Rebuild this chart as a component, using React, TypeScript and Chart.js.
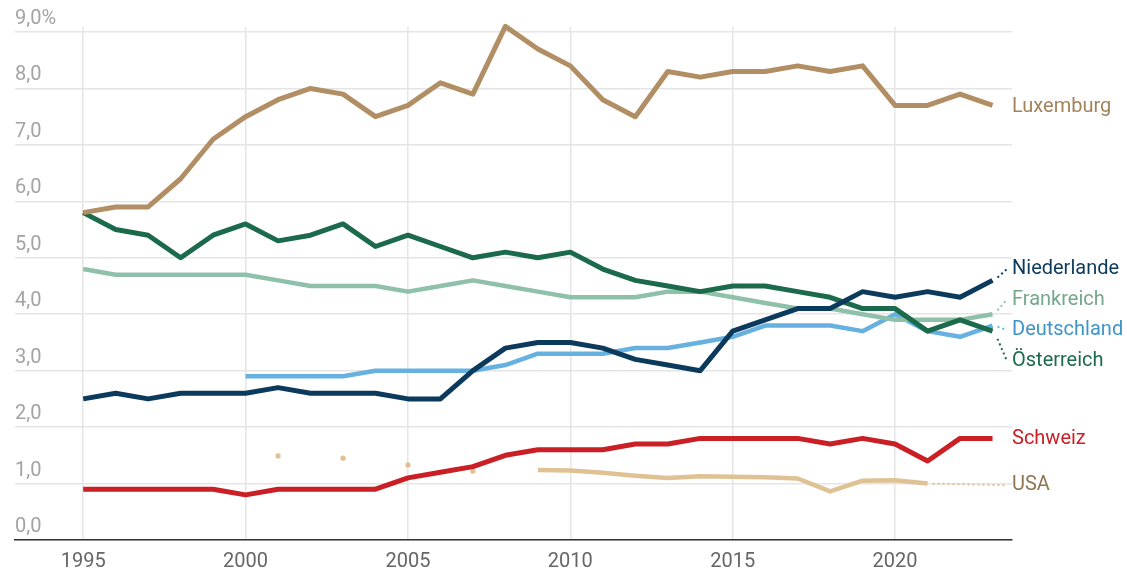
import React, { useEffect, useRef } from 'react';
import { Chart, registerables } from 'chart.js';

Chart.register(...registerables);

const years = [1995, 1996, 1997, 1998, 1999, 2000, 2001, 2002, 2003, 2004, 2005, 2006, 2007, 2008, 2009, 2010, 2011, 2012, 2013, 2014, 2015, 2016, 2017, 2018, 2019, 2020, 2021, 2022, 2023];

const luxemburg = [5.8, 5.9, 5.9, 6.4, 7.1, 7.5, 7.8, 8.0, 7.9, 7.5, 7.7, 8.1, 7.9, 9.1, 8.7, 8.4, 7.8, 7.5, 8.3, 8.2, 8.3, 8.3, 8.4, 8.3, 8.4, 7.7, 7.7, 7.9, 7.7];
const oesterreich = [5.8, 5.5, 5.4, 5.0, 5.4, 5.6, 5.3, 5.4, 5.6, 5.2, 5.4, 5.2, 5.0, 5.1, 5.0, 5.1, 4.8, 4.6, 4.5, 4.4, 4.5, 4.5, 4.4, 4.3, 4.1, 4.1, 3.7, 3.9, 3.7];
const frankreich = [4.8, 4.7, 4.7, 4.7, 4.7, 4.7, 4.6, 4.5, 4.5, 4.5, 4.4, 4.5, 4.6, 4.5, 4.4, 4.3, 4.3, 4.3, 4.4, 4.4, 4.3, 4.2, 4.1, 4.1, 4.0, 3.9, 3.9, 3.9, 4.0];
const niederlande = [2.5, 2.6, 2.5, 2.6, 2.6, 2.6, 2.7, 2.6, 2.6, 2.6, 2.5, 2.5, 3.0, 3.4, 3.5, 3.5, 3.4, 3.2, 3.1, 3.0, 3.7, 3.9, 4.1, 4.1, 4.4, 4.3, 4.4, 4.3, 4.6];
const deutschland = [null, null, null, null, null, 2.9, 2.9, 2.9, 2.9, 3.0, 3.0, 3.0, 3.0, 3.1, 3.3, 3.3, 3.3, 3.4, 3.4, 3.5, 3.6, 3.8, 3.8, 3.8, 3.7, 4.0, 3.7, 3.6, 3.8];
const schweiz = [0.9, 0.9, 0.9, 0.9, 0.9, 0.8, 0.9, 0.9, 0.9, 0.9, 1.1, 1.2, 1.3, 1.5, 1.6, 1.6, 1.6, 1.7, 1.7, 1.8, 1.8, 1.8, 1.8, 1.7, 1.8, 1.7, 1.4, 1.8, 1.8];
const usa = [null, null, null, null, null, null, 1.49, null, 1.45, null, 1.33, null, 1.22, null, 1.24, 1.23, 1.19, 1.14, 1.10, 1.13, 1.12, 1.11, 1.09, 0.86, 1.05, 1.06, 1.00, null, null];

const xTickYears = [1995, 2000, 2005, 2010, 2015, 2020];
const yTickValues = [0, 1, 2, 3, 4, 5, 6, 7, 8, 9];
const yTickLabels = ['0,0', '1,0', '2,0', '3,0', '4,0', '5,0', '6,0', '7,0', '8,0', '9,0%'];

type Series = {
  name: string;
  values: (number | null)[];
  line: string;
  text: string;
  width: number;
  labelAt: number;
};

const series: Series[] = [
  { name: 'Luxemburg', values: luxemburg, line: '#b18e63', text: '#a4835b', width: 5, labelAt: 7.68 },
  { name: 'Niederlande', values: niederlande, line: '#0c3a5c', text: '#0c3a5c', width: 5, labelAt: 4.8 },
  { name: 'Österreich', values: oesterreich, line: '#1c6a4c', text: '#1c6a4c', width: 5, labelAt: 3.17 },
  { name: 'Frankreich', values: frankreich, line: '#8fc0a9', text: '#74a78b', width: 4.5, labelAt: 4.26 },
  { name: 'Deutschland', values: deutschland, line: '#66b1df', text: '#3f94c8', width: 4.5, labelAt: 3.72 },
  { name: 'Schweiz', values: schweiz, line: '#cb1f26', text: '#cb1f26', width: 5, labelAt: 1.79 },
  { name: 'USA', values: usa, line: '#dfc193', text: '#8f7652', width: 4.5, labelAt: 0.97 },
];

const FONT = 'Roboto, "Noto Sans", sans-serif';

const gridTop = {
  id: 'gridTop',
  beforeDatasetsDraw(chart: any) {
    const { ctx, chartArea, scales } = chart;
    ctx.save();
    ctx.strokeStyle = '#e5e5e5';
    ctx.lineWidth = 1.5;
    xTickYears.forEach((yr) => {
      const x = scales.x.getPixelForValue(yr);
      ctx.beginPath();
      ctx.moveTo(x, chartArea.top - 5);
      ctx.lineTo(x, chartArea.top);
      ctx.stroke();
    });
    ctx.restore();
  },
};

const endLabels = {
  id: 'endLabels',
  afterDatasetsDraw(chart: any) {
    const { ctx, chartArea, scales } = chart;
    const ys = scales.y;
    ctx.save();
    series.forEach((s, i) => {
      const meta = chart.getDatasetMeta(i);
      let lastIdx = -1;
      for (let k = s.values.length - 1; k >= 0; k--) {
        if (s.values[k] !== null) { lastIdx = k; break; }
      }
      if (lastIdx < 0) return;
      const pt = meta.data[lastIdx];
      const ly = ys.getPixelForValue(s.labelAt);
      const tx = chartArea.right;
      const dx = tx - pt.x;
      const dy = ly - pt.y;
      if (Math.abs(dy) > 3 || dx > 30) {
        ctx.beginPath();
        ctx.setLineDash([2, 3]);
        ctx.lineWidth = 2;
        ctx.strokeStyle = s.line;
        ctx.moveTo(pt.x + 5, pt.y + (dy * 5) / dx);
        ctx.lineTo(tx - 5, ly);
        ctx.stroke();
        ctx.setLineDash([]);
      }
      ctx.font = `20px ${FONT}`;
      ctx.fillStyle = s.text;
      ctx.textAlign = 'left';
      ctx.textBaseline = 'middle';
      ctx.fillText(s.name, tx, ly);
    });
    ctx.restore();
  },
};

export default function App() {
  const ref = useRef<HTMLCanvasElement | null>(null);

  useEffect(() => {
    if (!ref.current) return;
    const chart = new Chart(ref.current, {
      type: 'line',
      data: {
        datasets: series.map((s) => ({
          label: s.name,
          data: years.map((y, k) => ({ x: y, y: s.values[k] })),
          borderColor: s.line,
          backgroundColor: s.line,
          borderWidth: s.width,
          borderJoinStyle: 'round' as const,
          borderCapStyle: 'butt' as const,
          tension: 0,
          spanGaps: false,
          clip: false as any,
          pointRadius: (c: any) => {
            const k = c.dataIndex;
            const v = s.values;
            if (v[k] === null) return 0;
            const prev = k > 0 ? v[k - 1] : null;
            const next = k < v.length - 1 ? v[k + 1] : null;
            return prev === null && next === null ? 2.6 : 0;
          },
          pointBorderWidth: 0,
          pointHoverRadius: 0,
        })),
      },
      options: {
        responsive: false,
        animation: false,
        events: [],
        layout: { padding: { left: 15, right: 115, top: 32, bottom: 0 } },
        plugins: { legend: { display: false }, tooltip: { enabled: false } },
        scales: {
          x: {
            type: 'linear',
            min: 1992.9,
            max: 2023.6,
            afterBuildTicks: (scale: any) => {
              scale.ticks = xTickYears.map((v) => ({ value: v }));
            },
            afterFit: (scale: any) => {
              scale.height = 31;
            },
            grid: { color: '#e5e5e5', lineWidth: 1.5, drawTicks: false },
            border: { display: true, color: '#333333', width: 1.5 },
            ticks: {
              padding: 10,
              color: '#666666',
              font: { family: FONT, size: 20 },
              maxRotation: 0,
              autoSkip: false,
              callback: (v: any) => String(v),
            },
          },
          y: {
            min: 0,
            max: 9,
            afterBuildTicks: (scale: any) => {
              scale.ticks = yTickValues.map((v) => ({ value: v }));
            },
            grid: { color: '#e5e5e5', lineWidth: 1.5, drawTicks: false },
            border: { display: false },
            ticks: {
              mirror: true,
              padding: 0,
              labelOffset: -13,
              color: '#a3a3a3',
              font: { family: FONT, size: 20 },
              callback: (v: any) => yTickLabels[yTickValues.indexOf(Number(v))] ?? '',
            },
          },
        },
      },
      plugins: [gridTop, endLabels],
    });
    return () => chart.destroy();
  }, []);

  return (
    <div style={{ position: 'fixed', left: 0, top: 0, width: 1127, height: 571, background: '#ffffff' }}>
      <canvas ref={ref} width={1127} height={571} style={{ display: 'block' }} />
    </div>
  );
}
